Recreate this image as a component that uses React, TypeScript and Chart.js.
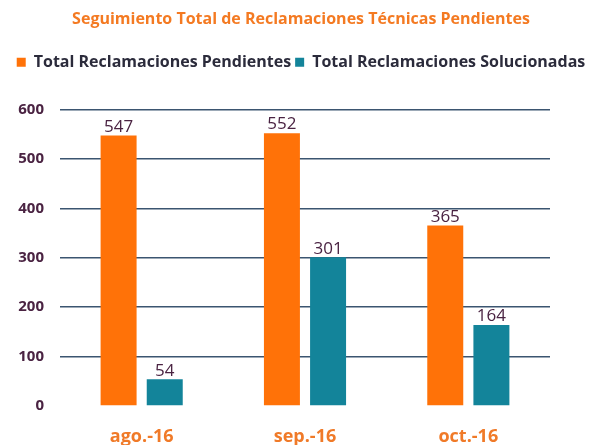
import React, { useEffect, useRef } from "react";
import { Chart, registerables } from "chart.js";

Chart.register(...registerables);

const categories = ["ago.-16", "sep.-16", "oct.-16"];
const pendientes = [547, 552, 365];
const solucionadas = [54, 301, 164];
const seriesNames = ["Total Reclamaciones Pendientes", "Total Reclamaciones Solucionadas"];
const titleText = "Seguimiento Total de Reclamaciones Técnicas Pendientes";

const FONT = "'Open Sans', 'DejaVu Sans', sans-serif";

const valueLabels = {
  id: "valueLabels",
  afterDatasetsDraw(chart: any) {
    const ctx = chart.ctx;
    ctx.save();
    ctx.font = `17px ${FONT}`;
    ctx.fillStyle = "#4a2342";
    ctx.textAlign = "center";
    ctx.textBaseline = "bottom";
    chart.data.datasets.forEach((ds: any, i: number) => {
      const meta = chart.getDatasetMeta(i);
      meta.data.forEach((bar: any, j: number) => {
        ctx.fillText(String(ds.data[j]), bar.x, bar.y);
      });
    });
    ctx.restore();
  },
};

export default function App() {
  const ref = useRef<HTMLCanvasElement>(null);
  useEffect(() => {
    if (!ref.current) return;
    const chart = new Chart(ref.current, {
      type: "bar",
      data: {
        labels: categories,
        datasets: [
          { label: seriesNames[0], data: pendientes, backgroundColor: "#FF7208", barPercentage: 0.78, categoryPercentage: 0.565, yAxisID: "y" },
          { label: seriesNames[1], data: solucionadas, backgroundColor: "#13849A", barPercentage: 0.78, categoryPercentage: 0.565, yAxisID: "y" },
        ],
      },
      options: {
        animation: false,
        responsive: false,
        layout: { padding: { left: 10, right: 0, top: 0, bottom: 0 } },
        plugins: {
          title: {
            display: true,
            text: titleText,
            color: "#F47A22",
            font: { family: FONT, size: 16, weight: "bold" },
            padding: { top: 10, bottom: 21 },
          },
          subtitle: {
            display: true,
            text: "",
            font: { size: 1 },
            padding: { top: 0, bottom: 28 },
            weight: 500,
          } as any,
          legend: {
            display: true,
            labels: {
              color: "#2b2b3b",
              font: { family: FONT, size: 16, weight: "bold" },
              boxWidth: 9,
              boxHeight: 9,
              padding: 4,
            },
          },
          tooltip: { enabled: false },
        },
        scales: {
          x: {
            grid: { display: false },
            border: { display: false },
            ticks: { color: "#F07A28", font: { family: FONT, size: 18, weight: "bold" }, padding: 12 },
            afterFit(s: any) { s.height = 39; },
          },
          y: {
            min: 0,
            max: 600,
            border: { display: false },
            grid: {
              color: (c: any) => (c.tick && c.tick.value === 0 ? "rgba(0,0,0,0)" : "#3b5570"),
              lineWidth: 1.5,
              drawTicks: false,
            },
            ticks: { stepSize: 100, color: "#4a2342", font: { family: FONT, size: 15, weight: "bold" }, padding: 16 },
            afterFit(s: any) { s.width = 50; },
          },
          y2: {
            type: "linear",
            position: "right",
            min: 0,
            max: 600,
            grid: { display: false },
            border: { display: false },
            ticks: { display: false },
            afterFit(s: any) { s.width = 42; },
          },
        },
      },
      plugins: [valueLabels],
    });
    return () => chart.destroy();
  }, []);
  return (
    <div style={{ position: "fixed", left: 0, top: 0, width: 592, height: 445, background: "#fff" }}>
      <canvas ref={ref} width={592} height={445} />
    </div>
  );
}
